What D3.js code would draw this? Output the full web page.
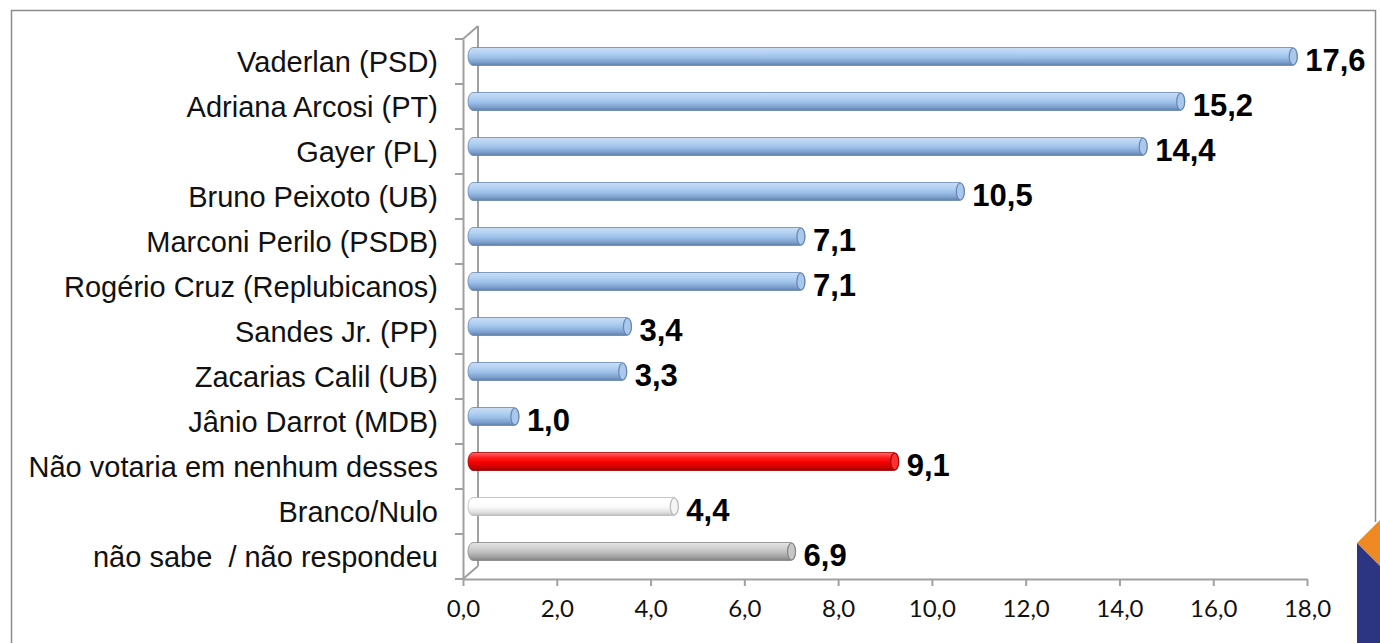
<!DOCTYPE html>
<html>
<head>
<meta charset="utf-8">
<script src="https://cdn.jsdelivr.net/npm/d3@7"></script>
<style>
  body { margin: 0; background: #fff; }
  #chart { width: 1380px; height: 643px; }
</style>
</head>
<body>
<div id="chart"></div>
<script>
// dados da pesquisa
const categories = [
  "Vaderlan (PSD)",
  "Adriana Arcosi (PT)",
  "Gayer (PL)",
  "Bruno Peixoto (UB)",
  "Marconi Perilo (PSDB)",
  "Rogério Cruz (Replubicanos)",
  "Sandes Jr. (PP)",
  "Zacarias Calil (UB)",
  "Jânio Darrot (MDB)",
  "Não votaria em nenhum desses",
  "Branco/Nulo",
  "não sabe  / não respondeu"
];
const values = [17.6, 15.2, 14.4, 10.5, 7.1, 7.1, 3.4, 3.3, 1.0, 9.1, 4.4, 6.9];
const barKinds = ["blue", "blue", "blue", "blue", "blue", "blue", "blue", "blue", "blue", "red", "white", "gray"];
const xTicks = [0, 2, 4, 6, 8, 10, 12, 14, 16, 18];

const width = 1380, height = 643;
const depth = {dx: 15, dy: -13};   // parede do fundo (efeito 3D)
const barShift = {dx: 9, dy: -5};
const barH = 18;

const svg = d3.select("#chart").append("svg")
    .attr("width", width)
    .attr("height", height);

// gradientes dos cilindros
const gradStops = {
  blue:  ["#c9def5", "#b3d1f2", "#9cc0e9", "#7c9fcc", "#5f7faa"],
  red:   ["#ff6b6b", "#ff1a1a", "#f40000", "#cc0000", "#9a0000"],
  white: ["#ffffff", "#ffffff", "#f8f8f8", "#e0e0e0", "#c0c0c0"],
  gray:  ["#e6e6e6", "#d2d2d2", "#bebebe", "#9e9e9e", "#808080"]
};
const defs = svg.append("defs");
Object.keys(gradStops).forEach(k => {
  const g = defs.append("linearGradient")
      .attr("id", "g-" + k)
      .attr("x1", 0).attr("y1", 0).attr("x2", 0).attr("y2", 1);
  gradStops[k].forEach((c, i) => {
    g.append("stop").attr("offset", [0, 0.3, 0.55, 0.82, 1][i]).attr("stop-color", c);
  });
});
const capColor = {blue: "#a9c8ec", red: "#ff3030", white: "#f4f4f4", gray: "#c6c6c6"};
const edgeColor = {blue: "#6685b0", red: "#a00000", white: "#b8b8b8", gray: "#858585"};

// moldura
svg.append("path")
    .attr("d", "M11.5,643 V10.5 H1375.5 V522")
    .attr("fill", "none")
    .attr("stroke", "#8c8c8c")
    .attr("stroke-width", 1.5);

// enfeite canto inferior direito
svg.append("polygon")
    .attr("points", "1357,543 1380,520 1380,566")
    .attr("fill", "#ef8a22");
svg.append("polygon")
    .attr("points", "1357,543 1380,566 1380,643 1357,643")
    .attr("fill", "#2b3582");

const x = d3.scaleLinear().domain([0, 18]).range([463, 1307]);
const y = d3.scaleBand().domain(categories).range([39, 579]);

const axisColor = "#a0a0a0";
const x0 = x(0), yTop = y.range()[0], yBot = y.range()[1];

// parede 3D
const wall = svg.append("g")
    .attr("fill", "none")
    .attr("stroke", axisColor)
    .attr("stroke-width", 2);
wall.append("line")
    .attr("x1", x0 + depth.dx).attr("x2", x0 + depth.dx)
    .attr("y1", yTop + depth.dy).attr("y2", yBot + depth.dy);
wall.append("line")
    .attr("x1", x0).attr("y1", yTop)
    .attr("x2", x0 + depth.dx).attr("y2", yTop + depth.dy);
wall.append("line")
    .attr("x1", x0).attr("y1", yBot)
    .attr("x2", x0 + depth.dx).attr("y2", yBot + depth.dy);

// eixo x
const fmt = d => d3.format(".1f")(d).replace(".", ",");
const xAxis = svg.append("g")
    .attr("transform", `translate(0,${yBot})`)
    .call(d3.axisBottom(x).tickValues(xTicks).tickFormat(fmt).tickSize(7).tickSizeOuter(0).tickPadding(14));
xAxis.select(".domain").attr("stroke", axisColor).attr("stroke-width", 2);
xAxis.selectAll(".tick line").attr("stroke", axisColor).attr("stroke-width", 2);
xAxis.selectAll(".tick text")
    .attr("font-family", "Lato, 'Open Sans', sans-serif")
    .attr("font-size", 24)
    .attr("fill", "#111");

// eixo y
const yAxis = svg.append("g")
    .attr("transform", `translate(${x0},0)`)
    .call(d3.axisLeft(y).tickSize(0).tickPadding(25));
yAxis.select(".domain").attr("stroke", axisColor).attr("stroke-width", 2);
yAxis.selectAll(".tick text")
    .attr("font-family", "'Liberation Sans', Arial, sans-serif")
    .attr("font-size", 29)
    .attr("fill", "#111")
    .attr("dy", "0.35em")
    .style("white-space", "pre");

// marcas entre categorias
svg.append("g").selectAll("line")
    .data(d3.range(categories.length + 1))
    .join("line")
    .attr("x1", x0 - 8).attr("x2", x0)
    .attr("y1", i => yTop + i * y.step())
    .attr("y2", i => yTop + i * y.step())
    .attr("stroke", axisColor)
    .attr("stroke-width", 2);

// barras cilíndricas
const rows = categories.map((c, i) => ({cat: c, value: values[i], kind: barKinds[i]}));
const bars = svg.append("g").selectAll("g")
    .data(rows)
    .join("g")
    .attr("transform", d => `translate(${barShift.dx},${y(d.cat) + y.bandwidth() / 2 + barShift.dy})`);

bars.append("rect")
    .attr("x", x0 - 4)
    .attr("y", -barH / 2)
    .attr("width", d => x(d.value) - x0 + 4)
    .attr("height", barH)
    .attr("rx", 5).attr("ry", barH / 2)
    .attr("fill", d => `url(#g-${d.kind})`)
    .attr("stroke", d => edgeColor[d.kind])
    .attr("stroke-width", 0.8);

bars.append("ellipse")
    .attr("cx", d => x(d.value) - 4)
    .attr("cy", 0)
    .attr("rx", 4)
    .attr("ry", barH / 2 - 0.5)
    .attr("fill", d => capColor[d.kind])
    .attr("stroke", d => edgeColor[d.kind])
    .attr("stroke-width", 1.2);

bars.append("text")
    .attr("x", d => x(d.value) + 8)
    .attr("y", 14)
    .attr("font-family", "'Liberation Sans', Arial, sans-serif")
    .attr("font-weight", "bold")
    .attr("font-size", 31)
    .attr("fill", "#000")
    .text(d => fmt(d.value));
</script>
</body>
</html>
